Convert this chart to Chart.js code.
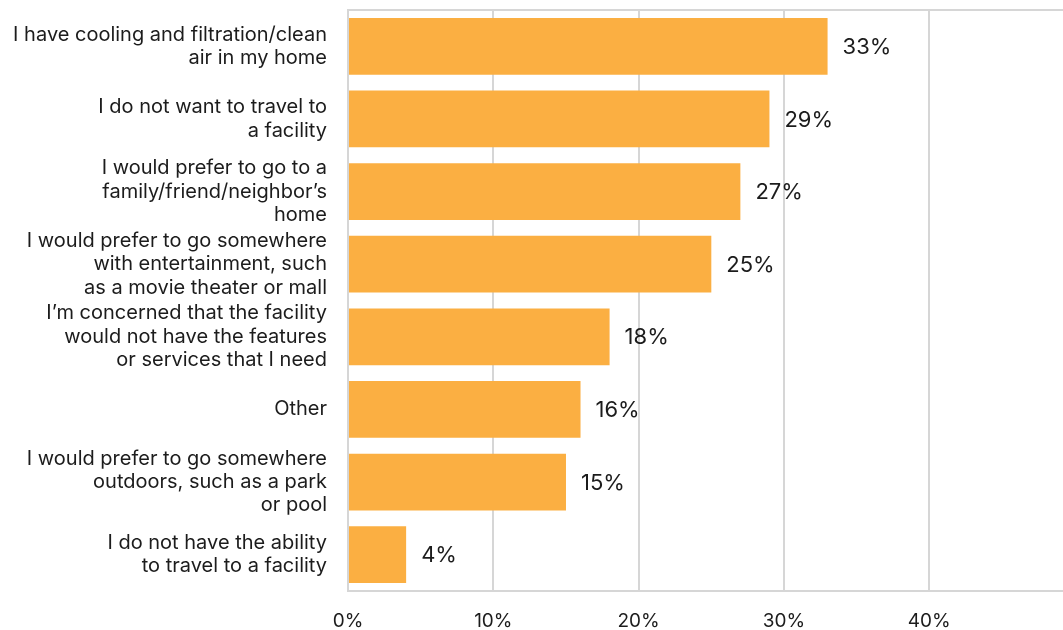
<!DOCTYPE html>
<html>
<head>
<meta charset="utf-8">
<script src="https://cdn.jsdelivr.net/npm/chart.js@4/dist/chart.umd.min.js"></script>
<style>
  html, body { margin: 0; padding: 0; background: #fff; overflow: hidden; }
  #wrap { position: relative; width: 1063px; height: 630px; }
</style>
</head>
<body>
<div id="wrap"><canvas id="chart"></canvas></div>
<script>
// ── DATOS ─────────────────────────────────────
const categories = [
  ['I have cooling and filtration/clean', 'air in my home'],
  ['I do not want to travel to', 'a facility'],
  ['I would prefer to go to a', 'family/friend/neighbor’s', 'home'],
  ['I would prefer to go somewhere', 'with entertainment, such', 'as a movie theater or mall'],
  ['I’m concerned that the facility', 'would not have the features', 'or services that I need'],
  'Other',
  ['I would prefer to go somewhere', 'outdoors, such as a park', 'or pool'],
  ['I do not have the ability', 'to travel to a facility'],
];
const shares = [33, 29, 27, 25, 18, 16, 15, 4];
const xTicks = [0, 10, 20, 30, 40];

const BAR = '#fbaf42';
const GRID = '#d6d6d6';
const INK = '#1c1c1c';
const FONT = 'Inter, "Noto Sans", sans-serif';

// etiquetas de valor al final de cada barra
const valueLabels = {
  id: 'valueLabels',
  afterDatasetsDraw(chart) {
    const ctx = chart.ctx;
    const meta = chart.getDatasetMeta(0);
    ctx.save();
    ctx.font = '22px ' + FONT;
    ctx.fillStyle = INK;
    ctx.textAlign = 'left';
    ctx.textBaseline = 'middle';
    meta.data.forEach((bar, i) => {
      ctx.fillText(shares[i] + '%', bar.x + 15, bar.y + 1);
    });
    ctx.restore();
  }
};

new Chart(document.getElementById('chart'), {
  type: 'bar',
  data: {
    labels: categories,
    datasets: [{
      data: shares,
      backgroundColor: BAR,
      borderWidth: 0,
      categoryPercentage: 0.78,
      barPercentage: 1,
    }]
  },
  plugins: [valueLabels],
  options: {
    indexAxis: 'y',
    responsive: true,
    maintainAspectRatio: false,
    animation: false,
    layout: { padding: { top: 10, right: 0, left: 0, bottom: 0 } },
    plugins: { legend: { display: false }, tooltip: { enabled: false } },
    scales: {
      x: {
        min: 0,
        max: 49.2,
        afterFit: s => { s.height = 39; s.paddingLeft = 0; s.paddingRight = 0; },
        grid: { color: GRID, lineWidth: 2, drawTicks: false },
        border: { color: GRID, width: 2 },
        afterBuildTicks: s => { s.ticks = xTicks.map(v => ({ value: v })); },
        ticks: {
          padding: 19,
          color: INK,
          font: { family: FONT, size: 19 },
          callback: v => v + '%',
        },
      },
      y: {
        afterFit: s => { s.width = 348; s.paddingTop = 0; s.paddingBottom = 0; },
        grid: {
          drawTicks: false,
          lineWidth: 2,
          color: c => c.index === 0 ? GRID : 'rgba(0,0,0,0)',
        },
        border: { color: GRID, width: 2 },
        ticks: {
          autoSkip: false,
          padding: 21,
          color: INK,
          font: { family: FONT, size: 20, lineHeight: 1.17 },
        },
      },
    },
  },
});
</script>
</body>
</html>
